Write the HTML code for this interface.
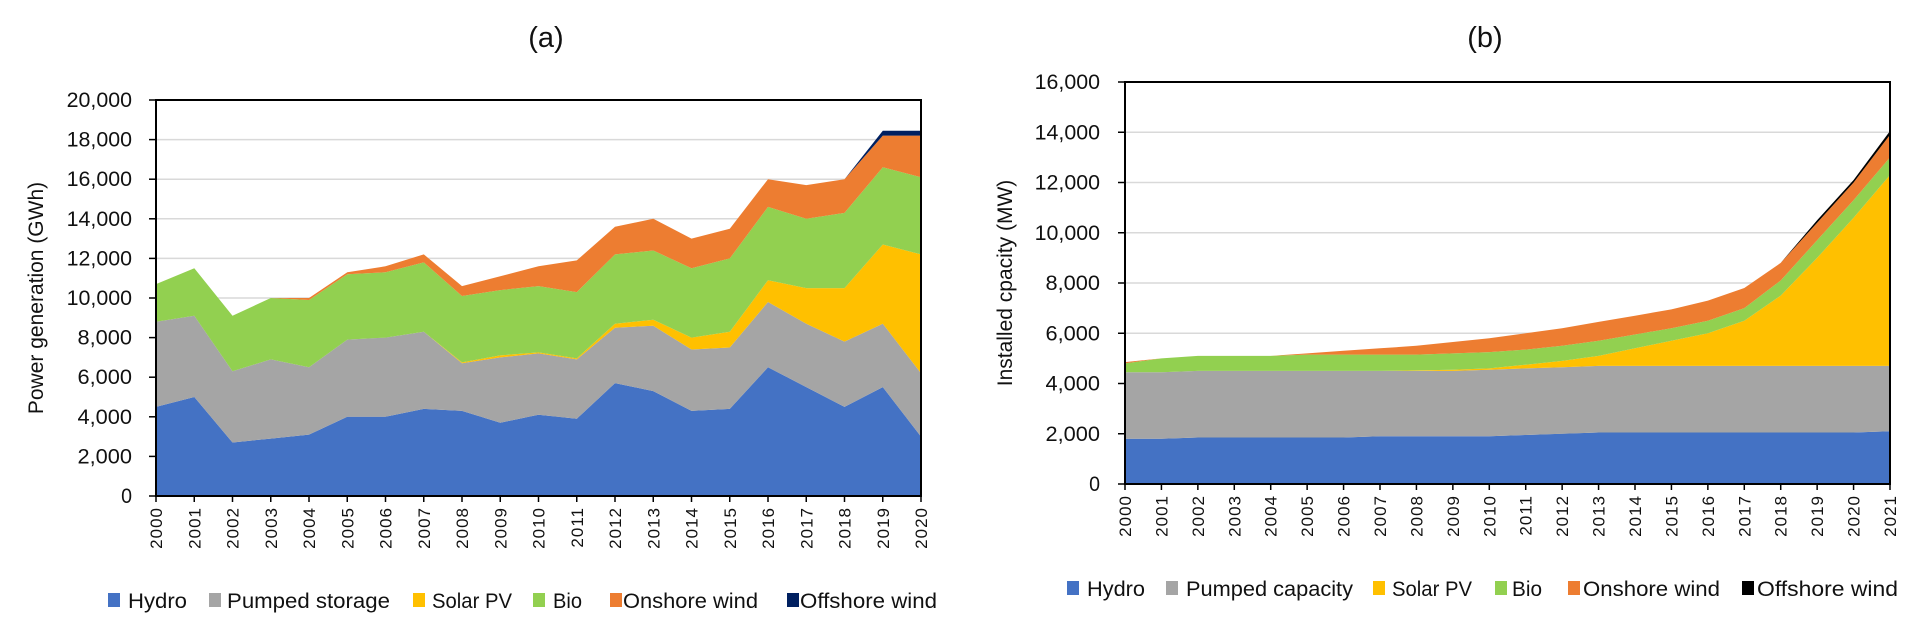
<!DOCTYPE html>
<html><head><meta charset="utf-8"><style>
html,body{margin:0;padding:0;background:#fff;}
svg{display:block;font-family:"Liberation Sans",sans-serif;}
</style></head><body>
<svg id="s" width="1923" height="629" viewBox="0 0 1923 629" xmlns="http://www.w3.org/2000/svg"></svg>
<script>
var S=document.getElementById('s'),h='';
var C=['#4472C4','#A5A5A5','#FFC000','#92D050','#ED7D31'];
function chart(o){
 var n=o.tops[0].length, X=function(i){return o.x0+(o.x1-o.x0)*i/(n-1)}, Y=function(v){return o.yb-(o.yb-o.yt)*v/o.max};
 for(var v=0;v<=o.max;v+=o.step){var y=Y(v);
  if(v>0&&v<o.max)h+='<line x1="'+o.x0+'" x2="'+o.x1+'" y1="'+y+'" y2="'+y+'" stroke="#d9d9d9" stroke-width="1.5"/>';
  var s=v.toLocaleString('en-US');
  h+='<text x="'+o.lx+'" y="'+(y+7)+'" font-size="21" text-anchor="end" fill="#111" textLength="'+(s.length*10.9)+'" lengthAdjust="spacingAndGlyphs">'+s+'</text>';
  h+='<line x1="'+(o.x0-7)+'" x2="'+o.x0+'" y1="'+y+'" y2="'+y+'" stroke="#000" stroke-width="1.5"/>';
 }
 var prev=null;
 for(var k=0;k<o.tops.length;k++){var t=o.tops[k],p='';
  for(var i=0;i<n;i++)p+=(i?'L':'M')+X(i).toFixed(1)+','+Y(t[i]).toFixed(1);
  for(var i=n-1;i>=0;i--)p+='L'+X(i).toFixed(1)+','+Y(prev?prev[i]:0).toFixed(1);
  h+='<path d="'+p+'Z" fill="'+o.col[k]+'"/>';prev=t;}
 h+='<rect x="'+o.x0+'" y="'+o.yt+'" width="'+(o.x1-o.x0)+'" height="'+(o.yb-o.yt)+'" fill="none" stroke="#000" stroke-width="2"/>';
 for(var i=0;i<n;i++){var x=X(i);
  h+='<line x1="'+x+'" x2="'+x+'" y1="'+o.yb+'" y2="'+(o.yb+6)+'" stroke="#000" stroke-width="1.5"/>';
  h+='<text transform="translate('+(x+6)+','+(o.yb+11)+') rotate(-90)" font-size="17" text-anchor="end" fill="#111" letter-spacing="1">'+(2000+i)+'</text>';}
 h+='<text transform="translate('+(o.tx)+','+((o.yt+o.yb)/2)+') rotate(-90)" font-size="21" text-anchor="middle" fill="#111">'+o.title+'</text>';
 h+='<text x="'+o.cx+'" y="47" font-size="29" text-anchor="middle" fill="#111">'+o.lab+'</text>';
 for(var j=0;j<o.leg.length;j++){var L=o.leg[j];
  h+='<rect x="'+L[0]+'" y="'+(o.ly-7)+'" width="12" height="14" fill="'+o.col[j]+'"/>';
  h+='<text x="'+L[1]+'" y="'+(o.ly+8)+'" font-size="21" fill="#111" textLength="'+(L[3]-L[1])+'" lengthAdjust="spacingAndGlyphs">'+L[2]+'</text>';}
}
var a_h=[4500,5000,2700,2900,3100,4000,4000,4400,4300,3700,4100,3900,5700,5300,4300,4400,6500,5500,4500,5500,3000];
var a_p=[8800,9100,6300,6900,6500,7900,8000,8300,6700,7000,7200,6900,8500,8600,7400,7500,9800,8700,7800,8700,6200];
var a_s=[8800,9100,6300,6900,6500,7900,8000,8300,6750,7100,7250,6950,8700,8900,8000,8300,10900,10500,10500,12700,12200];
var a_b=[10700,11500,9100,10000,9900,11200,11300,11800,10100,10400,10600,10300,12200,12400,11500,12000,14600,14000,14300,16600,16100];
var a_o=[10700,11500,9100,10000,10000,11300,11600,12200,10600,11100,11600,11900,13600,14000,13000,13500,16000,15700,16000,18200,18200];
var a_f=a_o.slice();a_f[19]=18450;a_f[20]=18450;
chart({x0:156,x1:921,yt:100,yb:496,max:20000,step:2000,lx:132,tx:43,cx:546,lab:'(a)',title:'Power generation (GWh)',
 tops:[a_h,a_p,a_s,a_b,a_o,a_f],col:C.concat(['#002060']),ly:600,
 leg:[[108,128,'Hydro',187],[209,227,'Pumped  storage',390],[413,432,'Solar PV',512],[533,553,'Bio',582],[610,623,'Onshore wind',758],[787,800,'Offshore wind',937]]});
var b_h=[1800,1800,1850,1850,1850,1850,1850,1900,1900,1900,1900,1950,2000,2050,2050,2050,2050,2050,2050,2050,2050,2100];
var b_p=[4450,4450,4500,4500,4500,4500,4500,4500,4500,4500,4550,4600,4650,4700,4700,4700,4700,4700,4700,4700,4700,4700];
var b_s=[4450,4450,4500,4500,4500,4500,4500,4500,4520,4550,4600,4750,4900,5100,5400,5700,6000,6500,7500,9000,10600,12300];
var b_b=[4800,5000,5100,5100,5100,5150,5150,5150,5150,5200,5250,5350,5500,5700,5950,6200,6500,7000,8100,9700,11300,13000];
var b_o=[4850,5000,5100,5100,5100,5200,5300,5400,5500,5650,5800,6000,6200,6450,6700,6950,7300,7800,8800,10400,12000,13900];
var b_f=b_o.slice();b_f[19]=10500;b_f[20]=12100;b_f[21]=14050;
chart({x0:1125,x1:1890,yt:82,yb:484,max:16000,step:2000,lx:1100,tx:1012,cx:1485,lab:'(b)',title:'Installed cpacity (MW)',
 tops:[b_h,b_p,b_s,b_b,b_o,b_f],col:C.concat(['#000000']),ly:588,
 leg:[[1067,1087,'Hydro',1145],[1166,1186,'Pumped capacity',1353],[1373,1392,'Solar PV',1472],[1495,1512,'Bio',1542],[1568,1583,'Onshore wind',1720],[1742,1757,'Offshore wind',1898]]});
S.innerHTML=h;
</script>
</body></html>
